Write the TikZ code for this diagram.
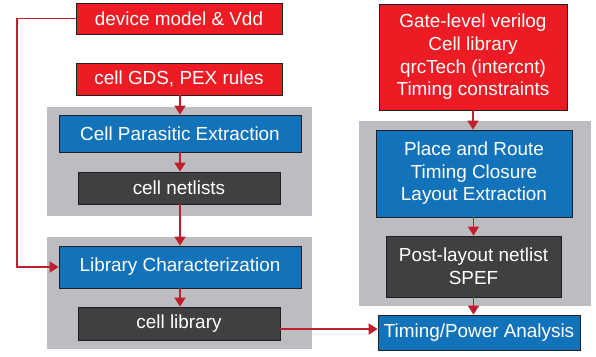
\documentclass[tikz,border=0pt]{standalone}
\usepackage{fontspec}
\setmainfont{Liberation Sans}
\usetikzlibrary{arrows.meta}
\definecolor{boxred}{RGB}{237,28,36}
\definecolor{boxblue}{RGB}{18,115,187}
\definecolor{boxdark}{RGB}{64,64,66}
\definecolor{bggray}{RGB}{188,189,192}
\definecolor{linered}{RGB}{192,30,45}
\definecolor{edge}{RGB}{35,31,32}
\begin{document}
\begin{tikzpicture}[x=1pt,y=-1pt,
  basebox/.style={draw=edge, line width=0.8pt, text=white, inner sep=0pt, align=center,
    font=\fontsize{18.9}{22.6}\selectfont},
  redbox/.style={basebox, fill=boxred},
  bluebox/.style={basebox, fill=boxblue},
  darkbox/.style={basebox, fill=boxdark},
  graybg/.style={fill=bggray, draw=none, inner sep=0pt},
  conn/.style={draw=linered, line width=1.8pt, -{Triangle[width=11pt,length=9pt]}},
  plain/.style={draw=linered, line width=1.8pt}
]
\useasboundingbox (0,0) rectangle (596,356);
\fill[white] (0,0) rectangle (596,356);
% gray backgrounds
\node[graybg, minimum width=265pt, minimum height=109pt] (g1) at (179.5,161.5) {};
\node[graybg, minimum width=265pt, minimum height=112pt] (g2) at (179.5,293) {};
\node[graybg, minimum width=232pt, minimum height=185pt] (g3) at (475,213.5) {};
% left column
\node[redbox, minimum width=206pt, minimum height=31pt] (dev) at (179,18.5) {device model \& Vdd};
\node[redbox, minimum width=206pt, minimum height=32pt] (gds) at (179,79) {cell GDS, PEX rules};
\node[bluebox, minimum width=242pt, minimum height=37pt] (cpe) at (180,133.5) {Cell Parasitic Extraction};
\node[darkbox, minimum width=202pt, minimum height=32pt] (nets) at (179,188) {cell netlists};
\node[bluebox, minimum width=242pt, minimum height=42pt] (lib) at (180,267) {Library Characterization};
\node[darkbox, minimum width=202pt, minimum height=33pt] (clib) at (179,323.5) {cell library};
% right column
\node[redbox, minimum width=188pt, minimum height=106pt] (gate) at (473,57) {Gate-level verilog\\Cell library\\qrcTech (intercnt)\\Timing constraints};
\node[bluebox, minimum width=196pt, minimum height=87pt] (pr) at (474,173.5) {Place and Route\\Timing Closure\\Layout Extraction};
\node[darkbox, minimum width=175pt, minimum height=61pt] (post) at (473.5,266.5) {Post-layout netlist\\SPEF};
\node[bluebox, minimum width=202pt, minimum height=35pt] (tpa) at (479,332.5) {Timing/Power Analysis};
% helper coordinates
\coordinate (lx) at (17,0);
\coordinate (ay) at (0,329);
% connectors
\draw[conn] ([xshift=1pt]gds.south) -- ([xshift=1pt]gds.south |- cpe.north);
\draw[conn] (cpe.south) -- (cpe.south |- nets.north);
\draw[conn] ([xshift=1pt]nets.south) -- ([xshift=1pt]nets.south |- lib.north);
\draw[conn] (lib.south) -- (lib.south |- clib.north);
\draw[conn] (dev.west) -- (lx |- dev.west) -- (lx |- lib.west) -- (lib.west);
\draw[conn] (clib.east |- ay) -- (tpa.west |- ay);
\draw[conn] (gate.south) -- (gate.south |- pr.north);
\draw[conn] ([xshift=-0.5pt]pr.south) -- ([xshift=-0.5pt]pr.south |- post.north);
\draw[conn] (post.south) -- (post.south |- tpa.north);
\end{tikzpicture}
\end{document}
